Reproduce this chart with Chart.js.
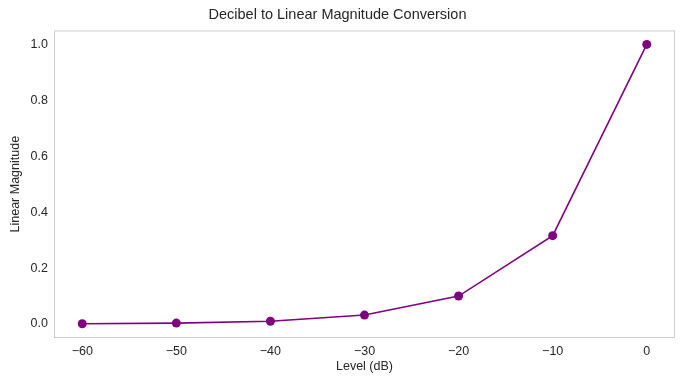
<!DOCTYPE html>
<html lang="en">
<head>
  <meta charset="UTF-8">
  <title>Decibel to Linear Magnitude Conversion</title>
  <script src="https://cdn.jsdelivr.net/npm/chart.js"></script>
  <style>
    body {
      margin: 0;
      padding: 0;
      background: #ffffff;
    }

    #myChart {
      display: block;
    }
  </style>
</head>
<body>
  <canvas id="myChart" width="683" height="386"></canvas>

  <script>
    // chart data
    const levels = [-60, -50, -40, -30, -20, -10, 0];
    const magnitude = [0.001, 0.0032, 0.01, 0.032, 0.1, 0.316, 1.0];
    const xTicks = [-60, -50, -40, -30, -20, -10, 0];
    const yTicks = [0.0, 0.2, 0.4, 0.6, 0.8, 1.0];

    const textColor = '#262626';
    const fontFamily = '"Liberation Sans", Arial, sans-serif';

    // light gray frame round the plot area
    const frame = {
      id: 'frame',
      afterDraw(chart) {
        const a = chart.chartArea;
        const c = chart.ctx;
        c.save();
        c.strokeStyle = '#cccccc';
        c.lineWidth = 1;
        c.strokeRect(a.left + 0.5, a.top + 0.5, a.right - a.left - 1, a.bottom - a.top - 1);
        c.restore();
      }
    };

    const ctx = document.getElementById('myChart').getContext('2d');
    const myChart = new Chart(ctx, {
      type: 'line',
      data: {
        datasets: [{
          data: levels.map((l, i) => ({ x: l, y: magnitude[i] })),
          borderColor: '#800080',
          backgroundColor: '#800080',
          borderWidth: 1.6,
          pointRadius: 4.5,
          pointHoverRadius: 4.5,
          pointBorderWidth: 0,
          fill: false,
          tension: 0,
        }],
      },
      options: {
        responsive: false,
        animation: false,
        layout: {
          padding: { left: 0, right: 8, top: 0, bottom: 0 }
        },
        plugins: {
          legend: { display: false },
          tooltip: { enabled: false },
          title: {
            display: true,
            text: 'Decibel to Linear Magnitude Conversion',
            color: textColor,
            font: { family: fontFamily, size: 14.5, weight: 'normal' },
            padding: { top: 6, bottom: 7 }
          }
        },
        scales: {
          x: {
            type: 'linear',
            min: -63,
            max: 3,
            grid: { display: false, drawTicks: false },
            border: { display: false },
            afterBuildTicks(scale) {
              scale.ticks = xTicks.map(v => ({ value: v }));
            },
            afterFit(scale) {
              scale.height = 48;
            },
            ticks: {
              color: textColor,
              padding: 6,
              font: { family: fontFamily, size: 12.5 },
              callback: v => String(v).replace('-', '\u2212')
            },
            title: {
              display: true,
              text: 'Level (dB)',
              color: textColor,
              font: { family: fontFamily, size: 12.5 },
              padding: { top: 3, bottom: 12 }
            }
          },
          y: {
            type: 'linear',
            min: -0.05,
            max: 1.05,
            grid: { display: false, drawTicks: false },
            border: { display: false },
            afterBuildTicks(scale) {
              scale.ticks = yTicks.map(v => ({ value: v }));
            },
            afterFit(scale) {
              scale.width = 54;
            },
            ticks: {
              color: textColor,
              padding: 6,
              font: { family: fontFamily, size: 12.5 },
              callback: v => v.toFixed(1)
            },
            title: {
              display: true,
              text: 'Linear Magnitude',
              color: textColor,
              font: { family: fontFamily, size: 12.5 },
              padding: { top: 8, bottom: 2 }
            }
          }
        }
      },
      plugins: [frame]
    });
  </script>
</body>
</html>
